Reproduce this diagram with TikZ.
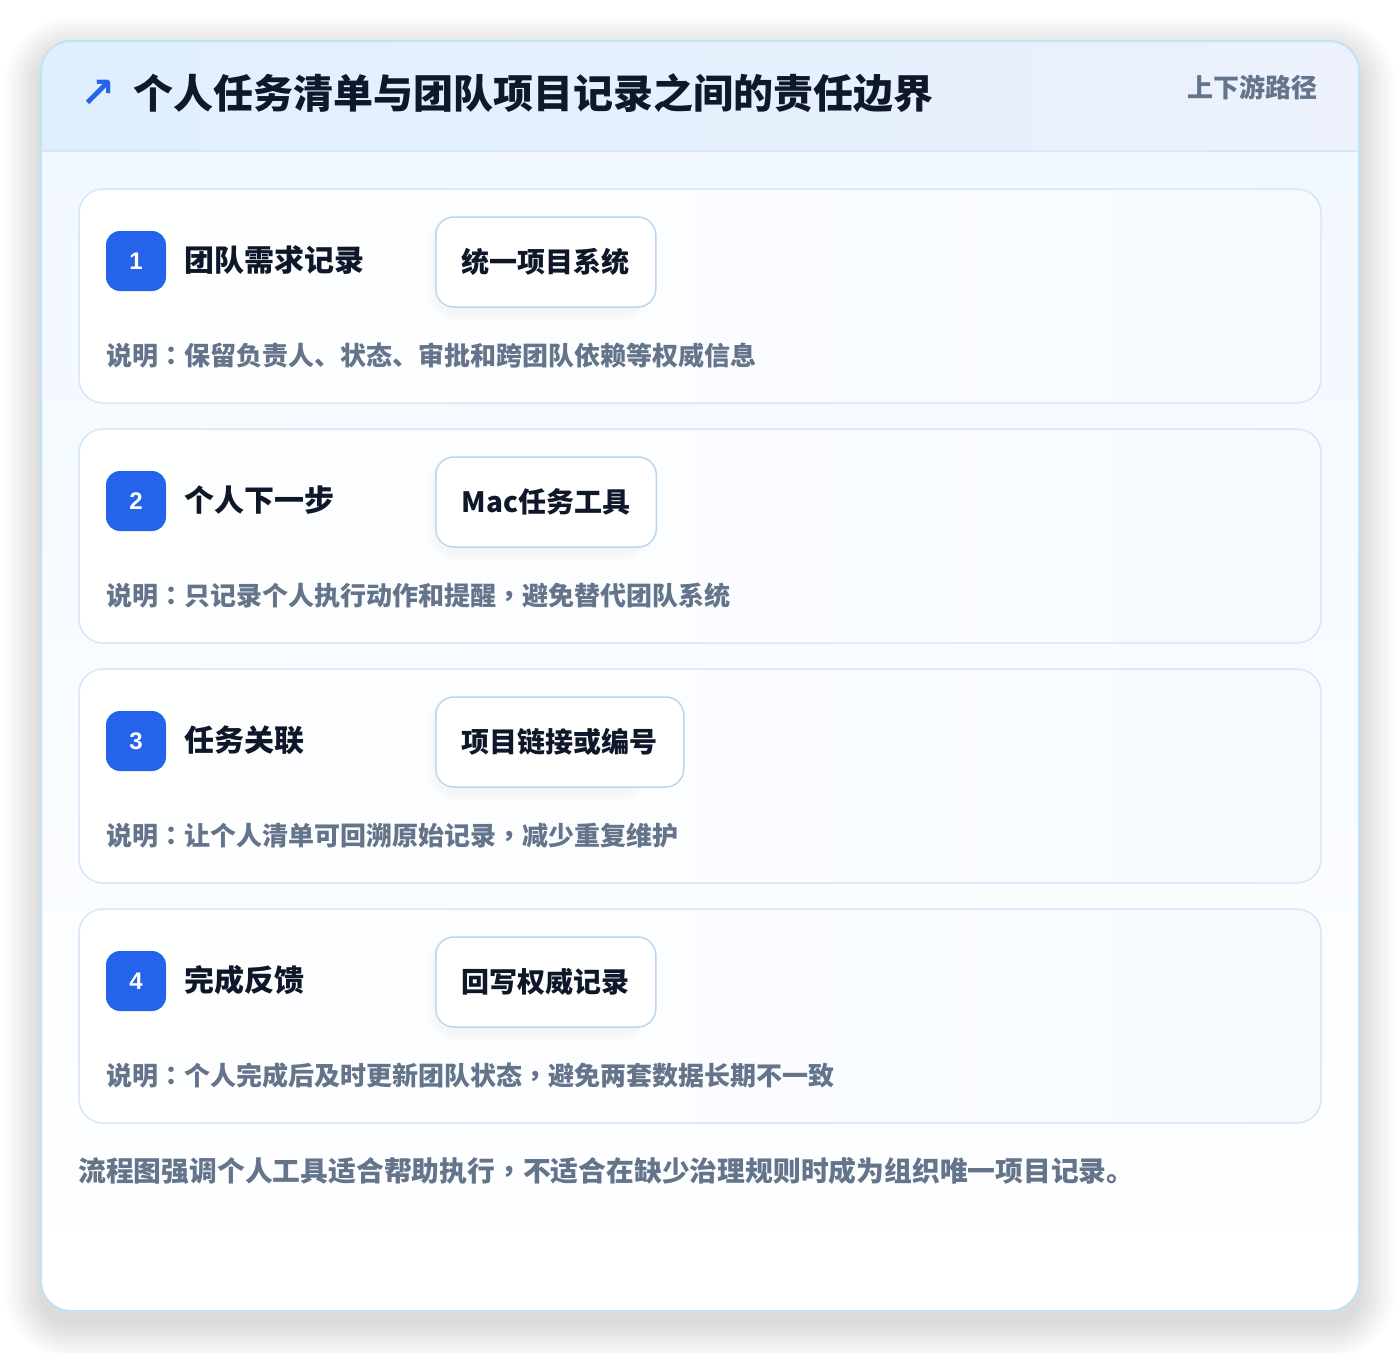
\documentclass[tikz,border=0pt]{standalone}
\usepackage{fontspec}
\newfontfamily\cjk{Noto Sans CJK SC}
\newfontfamily\cjktc{Noto Sans CJK TC}
\newfontfamily\symfont{DejaVu Sans}
\newfontfamily\numfont{Liberation Sans}
\newcommand\pcol{{\cjktc\bfseries ：}}
\newcommand\pcom{{\cjktc\bfseries ，}}
\definecolor{outerborder}{HTML}{BFE3F7}
\definecolor{headL}{HTML}{DFEFFE}
\definecolor{headR}{HTML}{ECF1FD}
\definecolor{headline}{HTML}{D6E7FA}
\definecolor{bodyT}{HTML}{F2F8FF}
\definecolor{bodyB}{HTML}{FFFFFF}
\definecolor{cardborder}{HTML}{D8E7F8}
\definecolor{cardR}{HTML}{F6FAFF}
\definecolor{pillborder}{HTML}{BCD5F2}
\definecolor{badgeblue}{HTML}{2563EB}
\definecolor{ink}{HTML}{0F172A}
\definecolor{muted}{HTML}{64748B}
\tikzset{
  card/.style={draw=cardborder, line width=1.5pt, rounded corners=24, left color=white, right color=cardR},
  badge/.style={fill=badgeblue, rounded corners=14, minimum width=60pt, minimum height=60pt, inner sep=0pt,
    text=white, font=\numfont\bfseries\fontsize{24}{28}\selectfont},
  steptitle/.style={anchor=west, inner sep=0pt, text=ink, font=\cjk\bfseries\fontsize{30}{36}\selectfont},
  pill/.style={draw=pillborder, line width=1.5pt, fill=white, rounded corners=18, minimum height=90pt,
    inner xsep=26pt, inner ysep=0pt, anchor=west, text=ink, font=\cjk\bfseries\fontsize{28}{34}\selectfont},
  desc/.style={anchor=west, inner sep=0pt, text=muted, font=\cjk\bfseries\fontsize{26}{32}\selectfont},
}
\begin{document}
\begin{tikzpicture}[x=1pt,y=-1pt]
\useasboundingbox (0,0) rectangle (1400,1352);
\fill[white] (0,0) rectangle (1400,1352);
% outer shadow
\foreach \s in {1,...,36} {
  \fill[black, opacity=0.0022, rounded corners=30+\s] (41-\s,41-\s+12) rectangle (1359+\s,1311+\s+12);
}
% outer card body
\begin{scope}
  \clip[rounded corners=30] (41,41) rectangle (1359,1311);
  \shade[top color=bodyT, bottom color=bodyB] (41,151) rectangle (1359,1311);
  \shade[left color=headL, right color=headR] (41,41) rectangle (1359,151);
\end{scope}
\draw[headline, line width=1.5pt] (41,151) -- (1359,151);
\draw[outerborder, line width=2pt, rounded corners=30] (41,41) rectangle (1359,1311);
% header
\node[anchor=west, inner sep=0pt, text=badgeblue, font=\symfont\bfseries\fontsize{42}{48}\selectfont] (arrow) at (80,94) {↗};
\node[anchor=west, inner sep=0pt, text=ink, font=\cjk\bfseries\fontsize{40}{48}\selectfont] (title) at (133,93) {个人任务清单与团队项目记录之间的责任边界};
\node[anchor=east, inner sep=0pt, text=muted, font=\cjk\bfseries\fontsize{26}{32}\selectfont] (tag) at (1318,87) {上下游路径};
% steps
\foreach \i/\top/\t/\p/\d in {
  1/189/团队需求记录/统一项目系统/说明\pcol 保留负责人、状态、审批和跨团队依赖等权威信息,
  2/429/个人下一步/Mac任务工具/说明\pcol 只记录个人执行动作和提醒\pcom 避免替代团队系统,
  3/669/任务关联/项目链接或编号/说明\pcol 让个人清单可回溯原始记录\pcom 减少重复维护,
  4/909/完成反馈/回写权威记录/说明\pcol 个人完成后及时更新团队状态\pcom 避免两套数据长期不一致} {
  \path[card] (79,\top) rectangle (1321,\top+214);
  \node[badge] (badge\i) at (136,\top+72) {\i};
  \node[steptitle] (title\i) at (184,\top+71) {\t};
  \foreach \s in {1,...,8} {
    \fill[black, opacity=0.003, rounded corners=18+\s] (435-\s,\top+28-\s+6) rectangle (640+\s,\top+118+\s+6);
  }
  \node[pill] (pill\i) at (435,\top+73) {\p};
  \node[desc] (desc\i) at (106,\top+167) {\d};
}
% footer
\node[anchor=west, inner sep=0pt, text=muted, font=\cjk\bfseries\fontsize{27.8}{34}\selectfont] (footer) at (78,1171) {流程图强调个人工具适合帮助执行\pcom 不适合在缺少治理规则时成为组织唯一项目记录。};
\end{tikzpicture}
\end{document}
